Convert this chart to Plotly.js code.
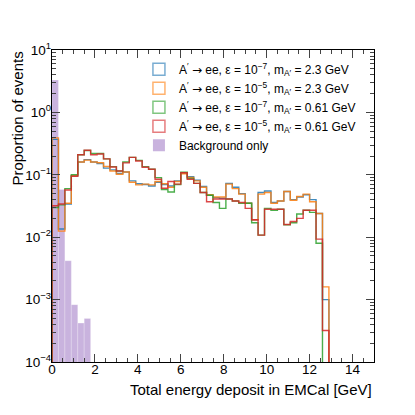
<!DOCTYPE html>
<html>
<head>
<meta charset="utf-8">
<script src="https://cdn.plot.ly/plotly-3.0.1.min.js"></script>
<style>
  html, body { margin: 0; padding: 0; background: #fff; }
  #plot { width: 415px; height: 415px; }
</style>
</head>
<body>
<div id="plot"></div>
<script>
// bin width of the histograms (GeV)
var binWidth = 0.3;

// signal samples, proportion per bin, bins start at 0 GeV
var eps7_m23 = [0.37, 0.0135, 0.034, 0.096, 0.16, 0.175, 0.16, 0.152, 0.128, 0.12,
                0.105, 0.111, 0.08, 0.072, 0.07, 0.066, 0.076, 0.07, 0.066, 0.08,
                0.108, 0.093, 0.082, 0.065, 0.047, 0.043, 0.042, 0.073, 0.063, 0.05,
                0.035, 0.019, 0.052, 0.055, 0.036, 0.038, 0.054, 0.04, 0.044, 0.048,
                0.04, 0.024, 0.001];
var eps5_m23 = [0.39, 0.0125, 0.035, 0.097, 0.16, 0.172, 0.16, 0.156, 0.136, 0.115,
                0.102, 0.111, 0.076, 0.069, 0.071, 0.069, 0.078, 0.072, 0.063, 0.078,
                0.104, 0.091, 0.08, 0.063, 0.048, 0.044, 0.044, 0.071, 0.06, 0.049,
                0.035, 0.019, 0.049, 0.052, 0.035, 0.038, 0.054, 0.039, 0.045, 0.049,
                0.037, 0.024, 0.0016];
var eps7_m061 = [0.030, 0.033, 0.060, 0.100, 0.21, 0.245, 0.22, 0.22, 0.18, 0.135,
                 0.115, 0.16, 0.19, 0.17, 0.135, 0.123, 0.09, 0.058, 0.053, 0.07,
                 0.11, 0.087, 0.073, 0.052, 0.047, 0.036, 0.029, 0.041, 0.038, 0.035,
                 0.035, 0.017, 0.0108, 0.029, 0.027, 0.028, 0.0158, 0.017, 0.0236, 0.027,
                 0.025, 0.008, 0];
var eps5_m061 = [0.032, 0.034, 0.057, 0.095, 0.21, 0.248, 0.21, 0.215, 0.18, 0.133,
                 0.115, 0.155, 0.19, 0.166, 0.132, 0.123, 0.085, 0.061, 0.078, 0.071,
                 0.108, 0.085, 0.073, 0.052, 0.037, 0.041, 0.041, 0.041, 0.038, 0.036,
                 0.029, 0.019, 0.0108, 0.028, 0.028, 0.028, 0.016, 0.0178, 0.02, 0.027,
                 0.027, 0.0093, 0.00032];
// background only
var background = [3.3, 0.058, 0.0042, 0.00083, 0.00042, 0.0005];

var arrow = "<span style='font-family:DejaVu Sans'>→</span>";
var labels = [
  "A<sup>′</sup> " + arrow + " ee, ε = 10<sup>−7</sup>, m<sub>A′</sub> = 2.3 GeV",
  "A<sup>′</sup> " + arrow + " ee, ε = 10<sup>−5</sup>, m<sub>A′</sub> = 2.3 GeV",
  "A<sup>′</sup> " + arrow + " ee, ε = 10<sup>−7</sup>, m<sub>A′</sub> = 0.61 GeV",
  "A<sup>′</sup> " + arrow + " ee, ε = 10<sup>−5</sup>, m<sub>A′</sub> = 0.61 GeV"
];
var colors = ["31,119,180", "255,127,14", "44,160,44", "214,39,40"];

var floorVal = 1e-7; // below the axis range, so the step drops to the frame

// step outline like histtype='step'
function stepTrace(vals, rgb) {
  var xs = [0], ys = [floorVal];
  vals.forEach(function(v, i) {
    xs.push(i * binWidth);
    ys.push(v > 0 ? v : floorVal);
  });
  xs.push(vals.length * binWidth);
  ys.push(floorVal);
  return {x: xs, y: ys, type: "scatter", mode: "lines",
          line: {shape: "hv", color: "rgba(" + rgb + ",0.85)", width: 1.4},
          showlegend: false, hoverinfo: "skip"};
}

var data = [];
data.push({
  x: background.map(function(v, i) { return (i + 0.5) * binWidth; }),
  y: background, type: "bar", width: binWidth,
  marker: {color: "rgba(148,103,189,0.5)", line: {color: "rgba(255,255,255,0.5)", width: 0.5}},
  showlegend: false
});
var series = [eps7_m23, eps5_m23, eps7_m061, eps5_m061];
series.forEach(function(s, i) { data.push(stepTrace(s, colors[i])); });

// legend entries (outlined boxes)
labels.forEach(function(lab, i) {
  data.push({x: [null], y: [null], type: "bar", name: lab,
             marker: {color: "rgba(255,255,255,0)", line: {color: "rgba(" + colors[i] + ",0.6)", width: 1.5}}});
});
data.push({x: [null], y: [null], type: "bar", name: "Background only",
           marker: {color: "rgba(148,103,189,0.5)", line: {width: 0}}});

var yTicks = [1e-4, 1e-3, 1e-2, 1e-1, 1, 10];
var yText = ["10<sup>−4</sup>", "10<sup>−3</sup>", "10<sup>−2</sup>", "10<sup>−1</sup>", "10<sup>0</sup>", "10<sup>1</sup>"];

var layout = {
  width: 415, height: 415,
  margin: {l: 52, r: 41, t: 50, b: 53},
  paper_bgcolor: "#fff", plot_bgcolor: "#fff",
  font: {family: "Liberation Sans, Arial, sans-serif", color: "#000", size: 13},
  barmode: "overlay", bargap: 0,
  showlegend: true,
  legend: {x: 0.27, y: 0.985, xanchor: "left", yanchor: "top", bgcolor: "rgba(0,0,0,0)",
           font: {size: 12}, itemwidth: 30, tracegroupgap: 0, traceorder: "normal"},
  xaxis: {range: [0, 15], dtick: 2, tick0: 0, ticks: "inside", ticklen: 8, tickwidth: 1,
          showline: true, linecolor: "#000", linewidth: 1.3, mirror: "allticks",
          showgrid: false, zeroline: false, tickfont: {size: 13.5}, ticklabelstandoff: -6,
          minor: {dtick: 0.5, ticks: "inside", ticklen: 4, tickwidth: 1, showgrid: false}},
  yaxis: {type: "log", range: [-4, 1], tickvals: yTicks, ticktext: yText,
          ticks: "inside", ticklen: 8, tickwidth: 1,
          showline: true, linecolor: "#000", linewidth: 1.3, mirror: "allticks",
          showgrid: false, zeroline: false, tickfont: {size: 13.5}, ticklabelstandoff: -3,
          minor: {dtick: "D1", ticks: "inside", ticklen: 4, tickwidth: 1, showgrid: false}},
  annotations: [
    {text: "Total energy deposit in EMCal [GeV]", xref: "paper", yref: "paper",
     x: 1, y: -0.055, xanchor: "right", yanchor: "top", showarrow: false, font: {size: 15}},
    {text: "Proportion of events", xref: "paper", yref: "paper",
     x: -0.11, y: 1, xanchor: "center", yanchor: "top", textangle: -90, showarrow: false, font: {size: 15}}
  ]
};

Plotly.newPlot("plot", data, layout, {staticPlot: true});
</script>
</body>
</html>
